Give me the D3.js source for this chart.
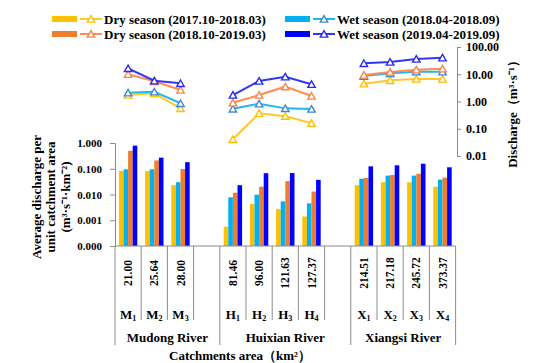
<!DOCTYPE html>
<html>
<head>
<meta charset="utf-8">
<script src="https://cdn.jsdelivr.net/npm/d3@7"></script>
<style>
  body { margin: 0; background: #fff; }
  svg text { font-family: "Liberation Serif", "Times New Roman", serif; font-weight: bold; fill: #000; }
</style>
</head>
<body>
<svg id="chart" width="550" height="363"></svg>
<script>
// sites and their catchment areas (km2)
const sites = ["M1", "M2", "M3", "H1", "H2", "H3", "H4", "X1", "X2", "X3", "X4"];
const areas = ["21.00", "25.64", "28.00", "81.46", "96.00", "121.63", "127.37", "214.51", "217.18", "245.72", "373.37"];
const rivers = ["Mudong River", "Huixian River", "Xiangsi River"];
const riverSites = [["M1", "M2", "M3"], ["H1", "H2", "H3", "H4"], ["X1", "X2", "X3", "X4"]];

const seriesKeys = ["dry1718", "wet18", "dry1819", "wet19"];
const seriesNames = ["Dry season (2017.10-2018.03)", "Wet season (2018.04-2018.09)",
                     "Dry season (2018.10-2019.03)", "Wet season (2019.04-2019.09)"];

// average discharge per unit catchment area (m3 s-1 km-2) -> bars
const perArea = {
  dry1718: [0.082, 0.082, 0.023, 0.00056, 0.0043, 0.0027, 0.0014, 0.023, 0.030, 0.030, 0.020],
  wet18:   [0.095, 0.095, 0.030, 0.0078, 0.0098, 0.0054, 0.0045, 0.041, 0.054, 0.054, 0.038],
  dry1819: [0.50, 0.21, 0.098, 0.0117, 0.020, 0.033, 0.013, 0.044, 0.057, 0.064, 0.045],
  wet19:   [0.79, 0.27, 0.18, 0.023, 0.067, 0.068, 0.037, 0.124, 0.136, 0.157, 0.114]
};

// discharge (m3 s-1) -> lines
const discharge = {
  dry1718: [1.73, 2.0, 0.56, 0.041, 0.37, 0.29, 0.16, 4.5, 6.0, 6.7, 6.7],
  wet18:   [2.1, 2.29, 0.86, 0.54, 0.83, 0.56, 0.53, 8.6, 10.8, 12.4, 12.4],
  dry1819: [10.0, 5.5, 2.64, 0.90, 1.73, 3.5, 1.59, 9.4, 12.1, 14.7, 16.0],
  wet19:   [16.5, 5.8, 4.65, 1.73, 5.65, 8.1, 4.3, 25.2, 28.2, 36.3, 40.5]
};

const barTicks = [0.0001, 0.001, 0.01, 0.1, 1];
const lineTicks = [0.01, 0.1, 1, 10, 100];

const barColor = { dry1718: "#FFC000", wet18: "#00B0F0", dry1819: "#ED7D31", wet19: "#0000FF" };
const lineColor = { dry1718: "#FFC72C", wet18: "#1CB8F0", dry1819: "#FF8C55", wet19: "#3535F5" };
const markColor = { dry1718: "#FFC000", wet18: "#3F86D6", dry1819: "#F4874B", wet19: "#2A2AF0" };

const svg = d3.select("#chart");

// slots: sites plus a blank slot between rivers
const slots = ["M1", "M2", "M3", "gapA", "H1", "H2", "H3", "H4", "gapB", "X1", "X2", "X3", "X4"];

const x = d3.scaleBand().domain(slots).range([115, 455.6]).padding(0);
const xs = d3.scaleBand().domain(seriesKeys).range([0, x.bandwidth()]).paddingInner(0).paddingOuter(0.85);
const yBar = d3.scaleLog().domain([0.0001, 1]).range([246, 143]);
const yLine = d3.scaleLog().domain([0.01, 100]).range([156, 47]);

const gray = "#8c8c8c";

// bars
const barData = [];
sites.forEach((s, i) => {
  seriesKeys.forEach(k => barData.push({ site: s, key: k, value: perArea[k][i] }));
});

svg.append("g")
  .selectAll("rect")
  .data(barData)
  .join("rect")
  .attr("x", d => x(d.site) + xs(d.key))
  .attr("y", d => yBar(d.value))
  .attr("width", xs.bandwidth())
  .attr("height", d => yBar.range()[0] - yBar(d.value))
  .attr("fill", d => barColor[d.key]);

// left axis
const leftAxis = svg.append("g")
  .attr("transform", "translate(115,0)")
  .call(d3.axisLeft(yBar).tickValues(barTicks).tickFormat(d3.format(".3f")).tickSize(5).tickPadding(8));
leftAxis.select(".domain").attr("stroke", gray);
leftAxis.selectAll(".tick line").attr("stroke", gray);
leftAxis.selectAll("text").style("font-size", "11px");

// right axis for discharge
const rightAxis = svg.append("g")
  .attr("transform", "translate(457,0)")
  .call(d3.axisRight(yLine).tickValues(lineTicks).tickFormat(d3.format(".2f")).tickSize(4).tickPadding(5));
rightAxis.select(".domain").attr("stroke", gray);
rightAxis.selectAll(".tick line").attr("stroke", gray);
rightAxis.selectAll("text").style("font-size", "12px");

// lines, one segment per river
const cx = s => x(s) + x.bandwidth() / 2;
const line = d3.line().x(d => cx(d.site)).y(d => yLine(d.value));
const tri = d3.symbol(d3.symbolTriangle, 24);

seriesKeys.forEach(k => {
  const g = svg.append("g");
  riverSites.forEach(list => {
    const pts = list.map(s => ({ site: s, value: discharge[k][sites.indexOf(s)] }));
    g.append("path")
      .datum(pts)
      .attr("d", line)
      .attr("fill", "none")
      .attr("stroke", lineColor[k])
      .attr("stroke-width", 2);
    g.selectAll(null)
      .data(pts)
      .join("path")
      .attr("d", tri)
      .attr("transform", d => `translate(${cx(d.site)},${yLine(d.value) + 1})`)
      .attr("fill", "#fff")
      .attr("stroke", markColor[k])
      .attr("stroke-width", 1.4);
  });
});

// bottom axis drawn as a table
const base = yBar.range()[0];
svg.append("line")
  .attr("x1", x.range()[0]).attr("x2", x.range()[1])
  .attr("y1", base).attr("y2", base)
  .attr("stroke", gray);

const groupEdges = [0, 4, 9, 13];
d3.range(14).forEach(i => {
  const xx = x.range()[0] + i * x.step();
  svg.append("line")
    .attr("x1", xx).attr("x2", xx)
    .attr("y1", base).attr("y2", groupEdges.includes(i) ? 345 : 320)
    .attr("stroke", gray);
});

sites.forEach((s, i) => {
  svg.append("text")
    .attr("transform", `translate(${cx(s)},273) rotate(-90)`)
    .attr("text-anchor", "middle")
    .attr("dy", "0.35em")
    .style("font-size", "11.5px")
    .text(areas[i]);
  const t = svg.append("text")
    .attr("x", cx(s))
    .attr("y", 319)
    .attr("text-anchor", "middle")
    .style("font-size", "13px");
  t.append("tspan").text(s[0]);
  t.append("tspan").attr("dy", 2).style("font-size", "8px").text(s.slice(1));
});

rivers.forEach((r, i) => {
  const x0 = x.range()[0] + groupEdges[i] * x.step();
  const x1 = x.range()[0] + groupEdges[i + 1] * x.step();
  svg.append("text")
    .attr("x", (x0 + x1) / 2)
    .attr("y", 342)
    .attr("text-anchor", "middle")
    .style("font-size", "13px")
    .text(r);
});

svg.append("text")
  .attr("x", 240)
  .attr("y", 360)
  .attr("text-anchor", "middle")
  .style("font-size", "13px")
  .text("Catchments area（km²）");

// left title
["Average discharge per", "unit catchment area", "(m³·s⁻¹·km⁻²)"].forEach((t, i) => {
  svg.append("text")
    .attr("transform", `translate(${36 + i * 14.5},197) rotate(-90)`)
    .attr("text-anchor", "middle")
    .attr("dy", "0.35em")
    .style("font-size", "13px")
    .text(t);
});

// right title
svg.append("text")
  .attr("transform", "translate(512,111) rotate(-90)")
  .attr("text-anchor", "middle")
  .attr("dy", "0.35em")
  .style("font-size", "13px")
  .text("Discharge（m³·s⁻¹）");

// legend
const legendPos = [[52, 19], [285, 19], [52, 34], [285, 34]];
const legendOrder = ["dry1718", "wet18", "dry1819", "wet19"];
legendOrder.forEach((k, i) => {
  const [lx, ly] = legendPos[i];
  const g = svg.append("g").attr("transform", `translate(${lx},${ly})`);
  g.append("rect").attr("x", 0).attr("y", -3).attr("width", 25).attr("height", 6).attr("fill", barColor[k]);
  g.append("line").attr("x1", 28).attr("x2", 50).attr("y1", 0).attr("y2", 0)
    .attr("stroke", lineColor[k]).attr("stroke-width", 2);
  g.append("path").attr("d", tri).attr("transform", "translate(39,1)")
    .attr("fill", "#fff").attr("stroke", markColor[k]).attr("stroke-width", 1.4);
  g.append("text").attr("x", 52).attr("y", 4.5).style("font-size", "13px")
    .text(seriesNames[seriesKeys.indexOf(k)]);
});
</script>
</body>
</html>
